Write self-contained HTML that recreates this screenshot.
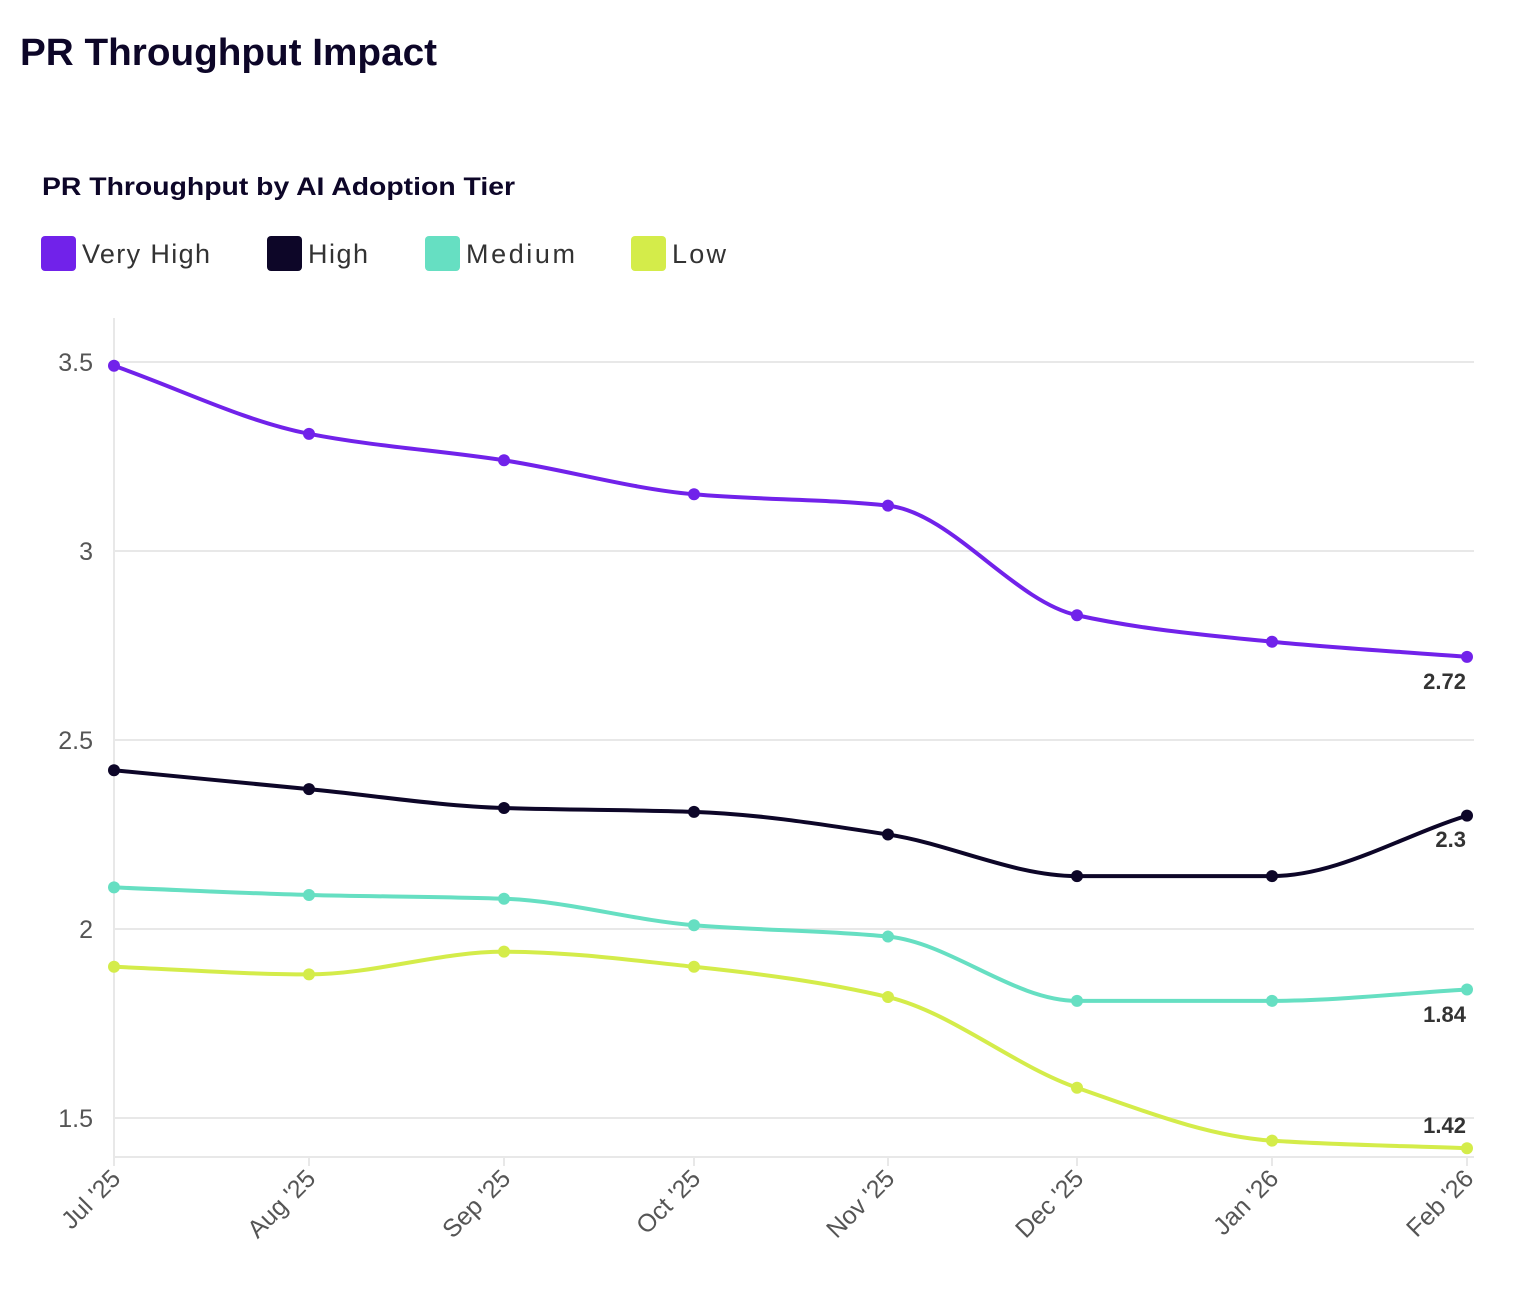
<!DOCTYPE html>
<html><head><meta charset="utf-8"><style>
body{margin:0;background:#fff;width:1532px;height:1284px;overflow:hidden;font-family:"Liberation Sans",sans-serif}
</style></head><body>
<svg id="s" width="1532" height="1284" xmlns="http://www.w3.org/2000/svg" font-family="Liberation Sans, sans-serif">
<text x="20" y="65" font-size="38" font-weight="bold" fill="#0d0628" textLength="417" lengthAdjust="spacingAndGlyphs">PR Throughput Impact</text>
<text x="42" y="195" font-size="25" font-weight="bold" fill="#0d0628" textLength="473" lengthAdjust="spacingAndGlyphs">PR Throughput by AI Adoption Tier</text>
<rect x="41" y="236" width="35" height="35" rx="4" fill="#7122ea"/><text x="82" y="263" font-size="27" fill="#333" textLength="128">Very High</text>
<rect x="267" y="236" width="35" height="35" rx="4" fill="#0d0628"/><text x="308" y="263" font-size="27" fill="#333" textLength="60">High</text>
<rect x="425" y="236" width="35" height="35" rx="4" fill="#66dfc2"/><text x="466" y="263" font-size="27" fill="#333" textLength="109">Medium</text>
<rect x="631" y="236" width="35" height="35" rx="4" fill="#d4ec4a"/><text x="672" y="263" font-size="27" fill="#333" textLength="54">Low</text>
<g stroke="#e8e8e8" stroke-width="2">
<line x1="114" x2="1474" y1="362" y2="362"/><line x1="114" x2="1474" y1="551" y2="551"/><line x1="114" x2="1474" y1="740" y2="740"/><line x1="114" x2="1474" y1="929" y2="929"/><line x1="114" x2="1474" y1="1118" y2="1118"/>
<line x1="114" x2="114" y1="318" y2="1165"/><line x1="114" x2="1474" y1="1157" y2="1157"/>
</g>
<g font-size="25" fill="#555" text-anchor="end">
<text x="93" y="371">3.5</text><text x="93" y="560">3</text><text x="93" y="749">2.5</text><text x="93" y="938">2</text><text x="93" y="1127">1.5</text>
</g>
<g id="g"></g>
<g font-size="22" font-weight="bold" fill="#333" text-anchor="end">
<text x="1466" y="689">2.72</text><text x="1466" y="847">2.3</text><text x="1466" y="1022">1.84</text><text x="1466" y="1133">1.42</text>
</g>
</svg>
<script>
var xs=[114,309,504,694,888,1077,1272,1467];
var labels=["Jul '25","Aug '25","Sep '25","Oct '25","Nov '25","Dec '25","Jan '26","Feb '26"];
function Y(v){return 929-(v-2)*378;}
var S=[["#7122ea",[3.49,3.31,3.24,3.15,3.12,2.83,2.76,2.72]],["#0d0628",[2.42,2.37,2.32,2.31,2.25,2.14,2.14,2.30]],["#66dfc2",[2.11,2.09,2.08,2.01,1.98,1.81,1.81,1.84]],["#d4ec4a",[1.90,1.88,1.94,1.90,1.82,1.58,1.44,1.42]]];
var g=document.getElementById('g'),h='';
xs.forEach(function(x,i){h+='<line x1="'+x+'" x2="'+x+'" y1="1157" y2="1166" stroke="#e8e8e8" stroke-width="2"/>';
h+='<text transform="translate('+(x+8)+',1180) rotate(-45)" text-anchor="end" font-size="25" fill="#555">'+labels[i]+'</text>';});
S.forEach(function(s){
 var ys=s[1].map(Y),n=xs.length,d=[],m=[];
 for(var i=0;i<n-1;i++)d.push((ys[i+1]-ys[i])/(xs[i+1]-xs[i]));
 m[0]=d[0];m[n-1]=d[n-2];
 for(i=1;i<n-1;i++){if(d[i-1]*d[i]<=0)m[i]=0;else{var h0=xs[i]-xs[i-1],h1=xs[i+1]-xs[i];m[i]=3*(h0+h1)/((2*h1+h0)/d[i-1]+(h1+2*h0)/d[i]);}}
 var p='M'+xs[0]+','+ys[0];
 for(i=0;i<n-1;i++){var dx=(xs[i+1]-xs[i])/3;p+='C'+(xs[i]+dx)+','+(ys[i]+m[i]*dx)+' '+(xs[i+1]-dx)+','+(ys[i+1]-m[i+1]*dx)+' '+xs[i+1]+','+ys[i+1];}
 h+='<path d="'+p+'" fill="none" stroke="'+s[0]+'" stroke-width="4"/>';
 for(i=0;i<n;i++)h+='<circle cx="'+xs[i]+'" cy="'+ys[i]+'" r="6" fill="'+s[0]+'"/>';
});
g.innerHTML=h;
</script>
</body></html>
